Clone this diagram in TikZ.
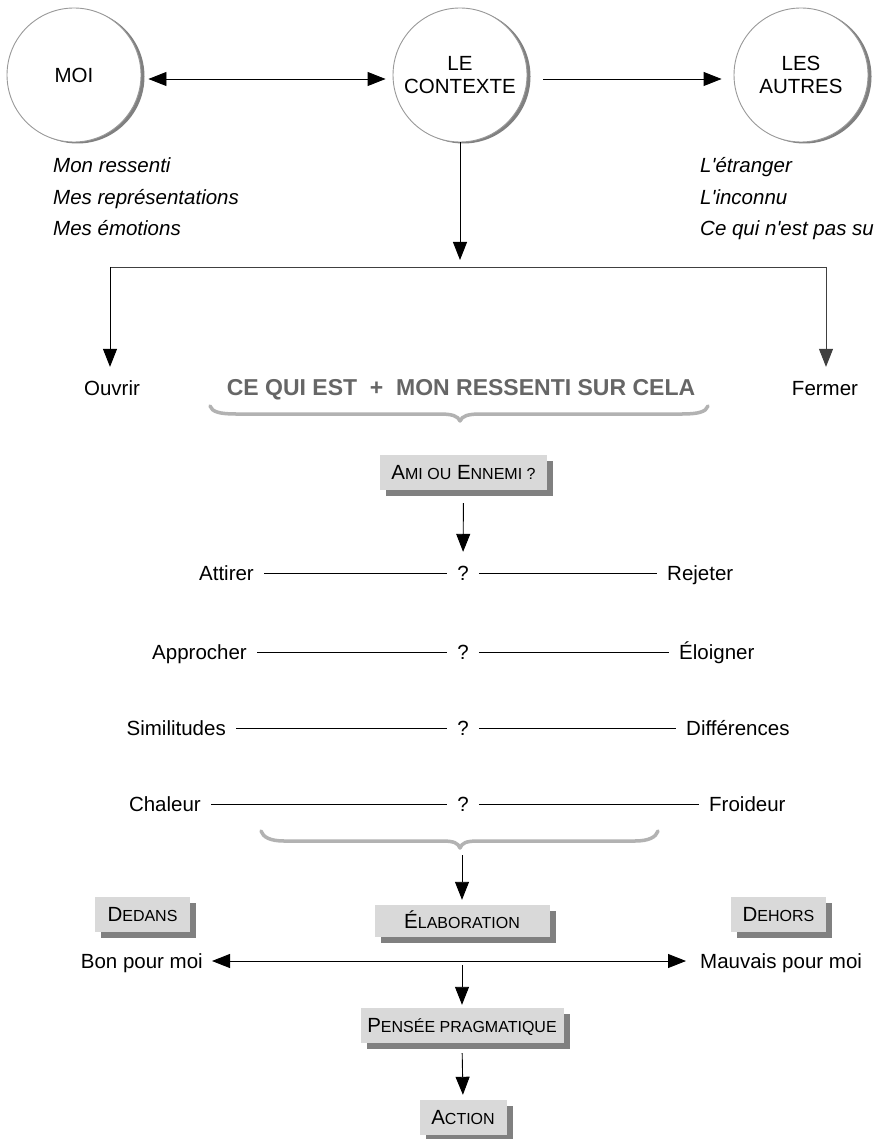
\documentclass[tikz,border=0pt]{standalone}
\usepackage{fontspec}
\setmainfont{Liberation Sans}
\newfontfamily\lsans{Liberation Sans}
\usetikzlibrary{arrows.meta,shadows}

% reduced capitals for the small-caps labels
\newcommand\smc[1]{{\fontsize{16}{18}\selectfont #1}}

\begin{document}
\begin{tikzpicture}[x=1pt,y=-1pt,
  every node/.style={font=\lsans\fontsize{20.5}{23}\selectfont, inner sep=0pt},
  txt/.style={text height=14.7pt, text depth=0pt},
  note/.style={txt, anchor=west, font=\lsans\itshape\fontsize{20.5}{23}\selectfont},
  bubble/.style={circle, minimum size=134pt, fill=white, draw=black!40, line width=0.9pt,
    align=center, general shadow={fill=black!50, shadow xshift=3.5pt, shadow yshift=-1.5pt}},
  tag/.style={txt, fill=black!15, minimum height=35pt,
    general shadow={fill=black!50, shadow xshift=6pt, shadow yshift=-6pt}},
  tip/.tip={Triangle[length=18pt,width=14pt]},
  arr/.style={-tip, line width=0.9pt},
  dbl/.style={tip-tip, line width=0.9pt},
  bar/.style={line width=0.9pt, shorten <=10pt, shorten >=10pt},
  bracket/.style={line width=3.5pt, draw=black!30, line cap=round, line join=round},
]
\useasboundingbox[fill=white] (0,0) rectangle (884,1139);

% --- the three poles ---
\node[bubble] (moi) at (74,75) {MOI};
\node[bubble] (ctx) at (460,75) {LE\\CONTEXTE};
\node[bubble] (autres) at (801,75) {LES\\AUTRES};

\draw[dbl, shorten <=7pt, shorten >=7pt] ([yshift=-4pt]moi.east) -- ([yshift=-4pt]ctx.west);
\draw[arr, shorten <=16pt, shorten >=12pt] ([yshift=-4pt]ctx.east) -- ([yshift=-4pt]autres.west);

\node[note] (m1) at (53,165) {Mon ressenti};
\node[note] (m2) at (53,197) {Mes représentations};
\node[note] (m3) at (53,228) {Mes émotions};
\node[note] (a1) at (700,165) {L'étranger};
\node[note] (a2) at (700,197) {L'inconnu};
\node[note] (a3) at (700,228) {Ce qui n'est pas su};

% --- split towards opening / closing ---
\coordinate (split) at (460,267);
\coordinate (bl) at (110,267);
\coordinate (br) at (826,267);
\node[txt] (ouvrir) at (112,388) {Ouvrir};
\node[txt] (fermer) at (825,388) {Fermer};
\draw[arr, shorten >=7pt] (ctx.south) -- (split);
\draw[line width=0.9pt, black!75] (bl) -- (br);
\draw[arr, shorten >=13.6pt] (bl) -- (bl |- ouvrir.north);
\draw[arr, shorten >=13.6pt, black!75] (br) -- (br |- fermer.north);

\node[txt, text height=16.5pt, text=black!60, font=\lsans\bfseries\fontsize{23}{26}\selectfont] (ceqe) at (461,387)
  {CE QUI EST\ \ +\ \ MON RESSENTI SUR CELA};
\draw[bracket] (210,406) .. controls (212,412) and (220,414) .. (236,414) -- (440,414)
  .. controls (452,414) and (458,416) .. (460,421)
  .. controls (462,416) and (468,414) .. (480,414) -- (682,414)
  .. controls (698,414) and (706,412) .. (708,406);

% --- friend or foe ---
\node[tag, minimum width=167pt] (ami) at (463.5,472.5) {A\smc{MI OU} E\smc{NNEMI ?}};

\node[txt, anchor=east] (l1) at (254,573) {Attirer};
\node[txt] (q1) at (463,573) {?};
\node[txt, anchor=west] (r1) at (667,573) {Rejeter};
\node[txt, anchor=east] (l2) at (247,652) {Approcher};
\node[txt] (q2) at (463,652) {?};
\node[txt, anchor=west] (r2) at (679,652) {Éloigner};
\node[txt, anchor=east] (l3) at (226,728) {Similitudes};
\node[txt] (q3) at (463,728) {?};
\node[txt, anchor=west] (r3) at (686,728) {Différences};
\node[txt, anchor=east] (l4) at (201,804) {Chaleur};
\node[txt] (q4) at (463,804) {?};
\node[txt, anchor=west] (r4) at (709,804) {Froideur};

\draw[arr, shorten <=13pt, shorten >=13.6pt] (ami.south) -- (q1.north);
\foreach \i in {1,...,4} {
  \draw[bar] (l\i) -- (q\i);
  \draw[bar] (q\i) -- (r\i);
}

\draw[bracket] (261,831) .. controls (263,837) and (270,841) .. (284,841) -- (442,841)
  .. controls (454,841) and (458,843) .. (460,848)
  .. controls (462,843) and (466,841) .. (478,841) -- (635,841)
  .. controls (649,841) and (656,837) .. (658,831);
\coordinate (lbrace) at (462,848);

% --- elaboration and outcome ---
\node[tag, minimum width=95pt] (dedans) at (142.5,914.5) {D\smc{EDANS}};
\node[tag, minimum width=175pt, minimum height=32pt] (elab) at (462,921) {É\smc{LABORATION}};
\node[tag, minimum width=95pt] (dehors) at (778.5,914.5) {D\smc{EHORS}};
\draw[arr, shorten <=7pt, shorten >=5pt] (lbrace) -- (elab.north);

\node[txt, anchor=east] (bon) at (203,961) {Bon pour moi};
\node[txt, anchor=west] (mauvais) at (700,961) {Mauvais pour moi};
\draw[dbl, shorten <=9pt, shorten >=14pt] (bon) -- (mauvais);
\coordinate (mid) at (462,960);

\node[tag, minimum width=203pt] (pensee) at (462,1025.5) {P\smc{ENSÉE PRAGMATIQUE}};
\node[tag, minimum width=87pt] (action) at (463,1117.5) {A\smc{CTION}};
\draw[arr, shorten <=5pt, shorten >=3pt] (mid) -- (pensee.north);
\draw[arr, shorten <=10pt, shorten >=5pt] (pensee.south) -- (action.north);
\end{tikzpicture}
\end{document}
